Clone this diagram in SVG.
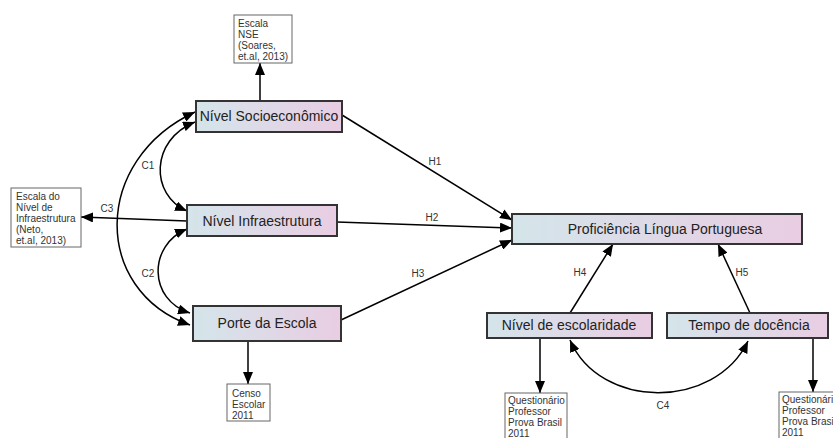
<svg xmlns="http://www.w3.org/2000/svg" width="833" height="438" viewBox="0 0 833 438">
<defs>
<linearGradient id="g" x1="0" y1="0" x2="1" y2="0">
<stop offset="0" stop-color="#d4e5ea"/>
<stop offset="1" stop-color="#e9cde3"/>
</linearGradient>
<marker id="ah" viewBox="0 0 12 10" refX="12" refY="5" markerWidth="12" markerHeight="10" markerUnits="userSpaceOnUse" orient="auto-start-reverse">
<path d="M0,0 L12,5 L0,10 z" fill="#000"/>
</marker>
</defs>
<style>
.main rect{fill:url(#g);stroke:#333;stroke-width:2}
.main text{font-family:"Liberation Sans",Arial,sans-serif;font-size:14px;fill:#222;text-anchor:middle}
.src rect{fill:#fff;stroke:#666;stroke-width:1}
.src text{font-family:"Liberation Sans",Arial,sans-serif;font-size:10px;fill:#333}
.conn path,.conn line{fill:none;stroke:#000;stroke-width:1.5}
.lbl{font-family:"Liberation Sans",Arial,sans-serif;font-size:10px;fill:#333;text-anchor:middle}
</style>
<rect width="833" height="438" fill="#fff"/>
<g class="conn">
<line x1="260" y1="101" x2="260" y2="63" marker-end="url(#ah)"/>
<line x1="187" y1="221" x2="81" y2="217" marker-end="url(#ah)"/>
<line x1="248" y1="341" x2="248" y2="384" marker-end="url(#ah)"/>
<path d="M195,122 C150,140 150,195 187,211" marker-start="url(#ah)" marker-end="url(#ah)"/>
<path d="M187,229 C148,245 148,300 190,313" marker-start="url(#ah)" marker-end="url(#ah)"/>
<path d="M195,112 C92,160 92,290 190,325" marker-start="url(#ah)" marker-end="url(#ah)"/>
<line x1="342" y1="115" x2="512" y2="220" marker-end="url(#ah)"/>
<line x1="337" y1="222" x2="512" y2="228" marker-end="url(#ah)"/>
<line x1="341" y1="320" x2="512" y2="240" marker-end="url(#ah)"/>
<line x1="570" y1="313" x2="613" y2="244" marker-end="url(#ah)"/>
<line x1="750" y1="313" x2="718" y2="244" marker-end="url(#ah)"/>
<line x1="540" y1="337" x2="540" y2="393" marker-end="url(#ah)"/>
<line x1="813" y1="337" x2="813" y2="392" marker-end="url(#ah)"/>
<path d="M570,340 C600,410 715,410 748,341" marker-start="url(#ah)" marker-end="url(#ah)"/>
</g>
<g id="labels">
<text class="lbl" x="148" y="169">C1</text>
<text class="lbl" x="148" y="277">C2</text>
<text class="lbl" x="107" y="212">C3</text>
<text class="lbl" x="435" y="165">H1</text>
<text class="lbl" x="432" y="221">H2</text>
<text class="lbl" x="418" y="277">H3</text>
<text class="lbl" x="580" y="276">H4</text>
<text class="lbl" x="742" y="276">H5</text>
<text class="lbl" x="663" y="409">C4</text>
</g>
<g id="nse" class="main"><rect x="196" y="101" width="146" height="31"/><text x="269" y="121">Nível Socioeconômico</text></g>
<g id="infra" class="main"><rect x="187" y="205" width="150" height="31"/><text x="262" y="226">Nível Infraestrutura</text></g>
<g id="porte" class="main"><rect x="193" y="306" width="148" height="35"/><text x="267" y="328">Porte da Escola</text></g>
<g id="prof" class="main"><rect x="512" y="214" width="290" height="30"/><text x="665" y="234">Proficiência Língua Portuguesa</text></g>
<g id="escol" class="main"><rect x="487" y="313" width="165" height="25"/><text x="569" y="330">Nível de escolaridade</text></g>
<g id="tempo" class="main"><rect x="667" y="313" width="161" height="25"/><text x="749" y="330">Tempo de docência</text></g>
<g id="src-nse" class="src"><rect x="234" y="15" width="58" height="48"/>
<text x="238" y="27">Escala</text><text x="238" y="38">NSE</text><text x="238" y="49">(Soares,</text><text x="238" y="60">et.al, 2013)</text></g>
<g id="src-infra" class="src"><rect x="11" y="188" width="70" height="59"/>
<text x="16" y="200">Escala do</text><text x="16" y="211">Nível de</text><text x="16" y="222">Infraestrutura</text><text x="16" y="233">(Neto,</text><text x="16" y="244">et.al, 2013)</text></g>
<g id="src-censo" class="src"><rect x="227" y="384" width="43" height="37"/>
<text x="232" y="397">Censo</text><text x="232" y="408">Escolar</text><text x="232" y="419">2011</text></g>
<g id="src-q1" class="src"><rect x="505" y="393" width="62" height="50"/>
<text x="508" y="404">Questionário</text><text x="508" y="415">Professor</text><text x="508" y="426">Prova Brasil</text><text x="508" y="437">2011</text></g>
<g id="src-q2" class="src"><rect x="779" y="392" width="62" height="50"/>
<text x="782" y="403">Questionário</text><text x="782" y="414">Professor</text><text x="782" y="425">Prova Brasil</text><text x="782" y="436">2011</text></g>
</svg>
